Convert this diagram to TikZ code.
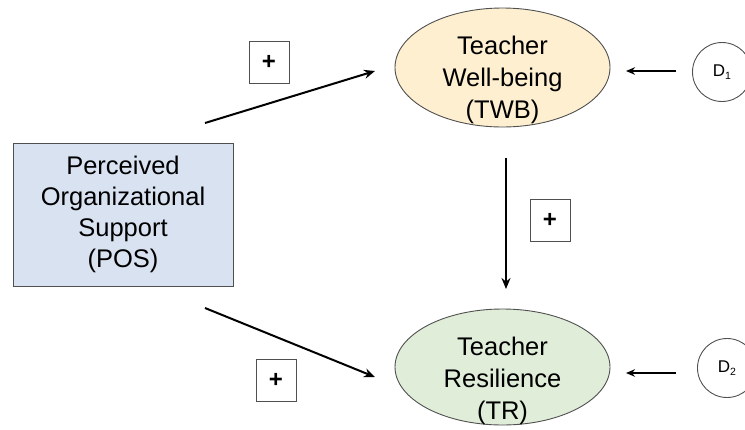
\documentclass[tikz,border=0pt]{standalone}
\usepackage{fontspec}
\setmainfont{Liberation Sans}
\usetikzlibrary{arrows.meta,shapes.geometric}

\definecolor{posfill}{HTML}{D9E2F1}
\definecolor{twbfill}{HTML}{FDEFCF}
\definecolor{trfill}{HTML}{E0EDD8}
\definecolor{edgegrey}{HTML}{505050}

\newcommand{\dlabel}[1]{D\raisebox{-3pt}{\fontsize{10.5}{10.5}\selectfont #1}}

\tikzset{
  construct/.style={draw=edgegrey, line width=0.9pt},
  bigtext/.style={align=center, font=\fontsize{25.5}{32}\selectfont, inner sep=0pt},
  signbox/.style={draw=edgegrey, line width=0.9pt, minimum width=40pt, minimum height=42pt,
                  inner sep=0pt, font=\fontsize{24}{24}\selectfont\bfseries},
  disturb/.style={draw=edgegrey, line width=0.9pt, circle, minimum size=59pt, inner sep=0pt,
                  font=\fontsize{17}{17}\selectfont},
  path arrow/.style={line width=2pt, -{Stealth[length=11pt,width=9pt]}},
  side arrow/.style={line width=1.6pt, -{Stealth[length=9pt,width=7.5pt]}},
}

\begin{document}
\begin{tikzpicture}[x=1pt, y=-1pt]
  \useasboundingbox (0,0) rectangle (745,429);

  % predictor
  \node[construct, fill=posfill, minimum width=220pt, minimum height=143pt, inner sep=0pt,
        bigtext, font=\fontsize{25.5}{31}\selectfont] (POS) at (123,214.5)
        {Perceived\\Organizational\\Support\\(POS)};

  % outcomes
  \node[construct, ellipse, fill=twbfill, minimum width=215pt, minimum height=119pt] (TWB) at (502.5,67.5) {};
  \node[bigtext] (TWBtext) at (502.5,80) {Teacher\\Well-being\\(TWB)};

  \node[construct, ellipse, fill=trfill, minimum width=215pt, minimum height=116pt] (TR) at (502.5,367) {};
  \node[bigtext] (TRtext) at (502.5,381) {Teacher\\Resilience\\(TR)};

  % disturbances
  \node[disturb] (D1) at (722,72) {\dlabel{1}};
  \node[disturb] (D2) at (727,368) {\dlabel{2}};

  % sign boxes
  \node[signbox] (s1) at (269,62) {+};
  \node[signbox] (s2) at (550,220) {+};
  \node[signbox] (s3) at (276,380) {+};

  % path ends
  \coordinate (a1s) at (205,123);
  \coordinate (a1e) at (375,71);
  \coordinate (a2s) at (205,308);
  \coordinate (a2e) at (375,377);
  \coordinate (a3s) at (506,158);
  \coordinate (a3e) at (506,289);
  \coordinate (d1s) at (676,71);
  \coordinate (d1e) at (626,71);
  \coordinate (d2s) at (676,373);
  \coordinate (d2e) at (626,373);

  \draw[path arrow] (a1s) -- (a1e);
  \draw[path arrow] (a2s) -- (a2e);
  \draw[path arrow] (a3s) -- (a3e);
  \draw[side arrow] (d1s) -- (d1e);
  \draw[side arrow] (d2s) -- (d2e);
\end{tikzpicture}
\end{document}
